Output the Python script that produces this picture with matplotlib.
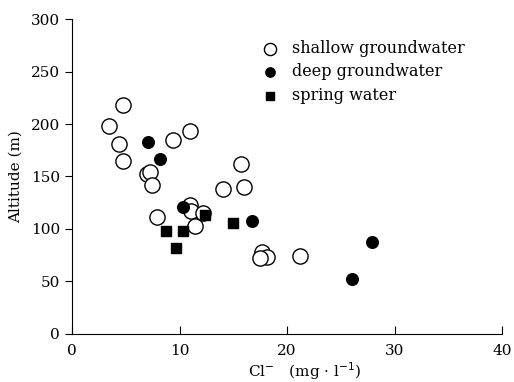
# Cl- vs altitude scatter, three water types
import matplotlib.pyplot as plt

# shallow groundwater (open circles)
shallow_cl = [4.7, 3.4, 4.4, 4.7, 9.4, 11.0, 7.0, 7.3, 7.4, 15.7, 14.0, 16.0,
              7.9, 11.0, 11.1, 11.4, 12.2, 17.7, 18.1, 17.5, 21.2]
shallow_alt = [218, 198, 181, 165, 185, 193, 152, 154, 142, 162, 138, 140,
               111, 123, 117, 103, 115, 78, 73, 72, 74]

# deep groundwater (filled circles)
deep_cl = [7.1, 8.2, 10.3, 16.7, 26.0, 27.9]
deep_alt = [183, 167, 121, 108, 52, 88]

# spring water (filled squares)
spring_cl = [8.7, 10.3, 9.7, 12.4, 15.0]
spring_alt = [98, 98, 82, 113, 106]

x_ticks = [0, 10, 20, 30, 40]
y_ticks = [0, 50, 100, 150, 200, 250, 300]

plt.rcParams["font.family"] = ["DejaVu Serif"]

fig = plt.figure(figsize=(5.14, 3.82), dpi=100)
ax = fig.add_axes([0.140, 0.126, 0.837, 0.824])

ax.scatter(shallow_cl, shallow_alt, s=120, facecolors="white",
           edgecolors="black", linewidths=1.0, label="shallow groundwater", zorder=3)
ax.scatter(deep_cl, deep_alt, s=70, color="black", label="deep groundwater", zorder=4)
ax.scatter(spring_cl, spring_alt, s=55, marker="s", color="black",
           label="spring water", zorder=4)

ax.set_xlim(0, 40)
ax.set_ylim(0, 300)
ax.set_xticks(x_ticks)
ax.set_yticks(y_ticks)
ax.spines["top"].set_visible(False)
ax.spines["right"].set_visible(False)
ax.tick_params(axis="x", direction="in", length=6, labelsize=11, pad=7)
ax.tick_params(axis="y", direction="out", length=5, labelsize=11)

ax.set_xlabel("Cl$^{-}$   (mg · l$^{-1}$)", fontsize=11, labelpad=-1)
ax.xaxis.set_label_coords(0.542, -0.085)
ax.set_ylabel("Altitude (m)", fontsize=11)
ax.yaxis.set_label_coords(-0.115, 0.5)

ax.legend(loc="upper left", bbox_to_anchor=(0.40, 0.965), frameon=False,
          fontsize=11.5, handletextpad=0.4, labelspacing=0.42, borderaxespad=0.2,
          markerscale=0.8)

fig.savefig("out.png", dpi=100)
